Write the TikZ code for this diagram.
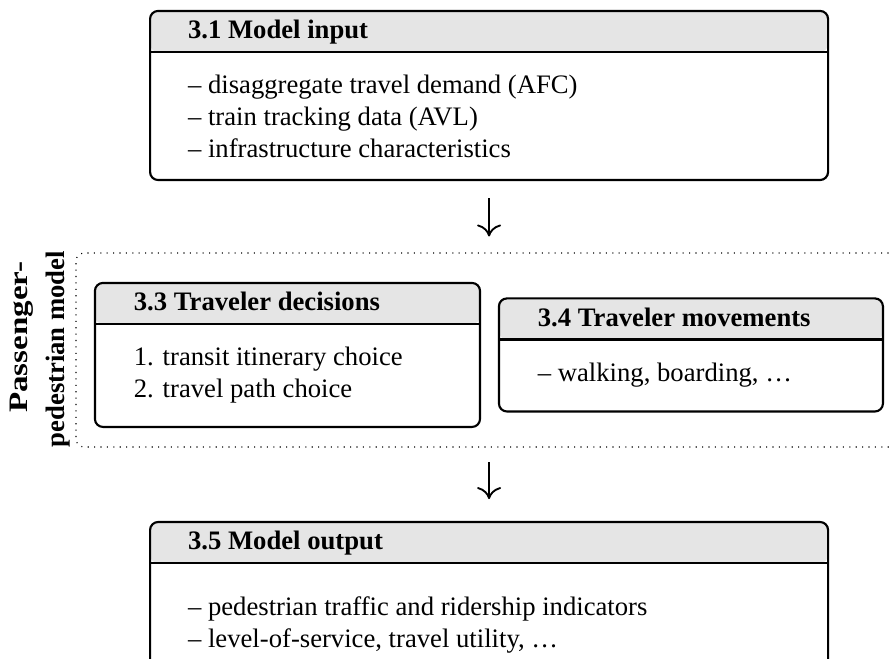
\documentclass[tikz,border=0pt]{standalone}
\usepackage{fontspec}
\setmainfont{Liberation Serif}
\usetikzlibrary{positioning, calc, arrows.meta}

\begin{document}
\begin{tikzpicture}[>={To[length=4.5pt,width=9pt]}, thick]
\tikzset{
  blk/.style={draw, rounded corners=3pt, inner sep=0pt,
    path picture={
      \fill[black!10] (path picture bounding box.north west) rectangle ([yshift=-15.4pt]path picture bounding box.north east);
      \draw[thick] ([yshift=-15.4pt]path picture bounding box.north west) -- ([yshift=-15.4pt]path picture bounding box.north east);
    }},
  hd/.style ={anchor=base west, inner sep=0pt, font=\bfseries},
  txt/.style={anchor=west, inner sep=0pt, align=left},
  frm/.style={draw, dotted, thin, rounded corners=3pt}
}
\useasboundingbox (0,0) rectangle (334.5pt,-247.1pt);
\clip (0,0) rectangle (334.5pt,-247.1pt);

% row 1 : input
\node[blk, minimum width=254.25pt, minimum height=63.4pt] (input) at (183.4pt,-35.8pt) {};
\node[hd] (inputhd) at ($(input.north west)+(14.25pt,-10.7pt)$) {3.1 Model input};
\node[txt] (inputtxt) at ($(input.west)+(14.25pt,-7.7pt)$)
  {– disaggregate travel demand (AFC)\\– train tracking data (AVL)\\– infrastructure characteristics};

% row 2 : passenger-pedestrian model
\node[frm, minimum width=312.5pt, minimum height=72.75pt] (ped) at (184.75pt,-131.25pt) {};
\node[rotate=90, font=\bfseries, align=right, inner sep=0pt] (pedlbl) at (15pt,-130.9pt)
  {\scalebox{1.24}[1]{Passenger-}\hspace*{4pt}\\[2pt]pedestrian model};

\node[blk, minimum width=144.4pt, minimum height=54pt] (dec) at (107.8pt,-133.1pt) {};
\node[hd] (dechd) at ($(dec.north west)+(14.6pt,-10.8pt)$) {3.3 Traveler decisions};
\node[txt] (dectxt) at ($(dec.west)+(14.6pt,-7.7pt)$) {1. transit itinerary choice\\2. travel path choice};

\node[blk, right=6.3pt of dec, minimum width=144pt, minimum height=42.4pt] (mov) {};
\node[hd] (movhd) at ($(mov.north west)+(14.6pt,-10.8pt)$) {3.4 Traveler movements};
\node[txt] (movtxt) at ($(mov.west)+(14.6pt,-7.7pt)$) {– walking, boarding, \dots};

% row 3 : output
\node[blk, minimum width=254.25pt, minimum height=62pt] (output) at (183.4pt,-226.75pt) {};
\node[hd] (outputhd) at ($(output.north west)+(14.25pt,-10.7pt)$) {3.5 Model output};
\node[txt] (outputtxt) at ($(output.west)+(14.25pt,-7.7pt)$)
  {– pedestrian traffic and ridership indicators\\– level-of-service, travel utility, \dots};

\draw[->, line width=0.7pt, shorten <=6.4pt, shorten >=6pt] (input.south) -- (input.south |- ped.north);
\draw[->, line width=0.7pt, shorten <=5.6pt, shorten >=8.2pt] (ped.south -| output.north) -- (output.north);

\end{tikzpicture}
\end{document}
